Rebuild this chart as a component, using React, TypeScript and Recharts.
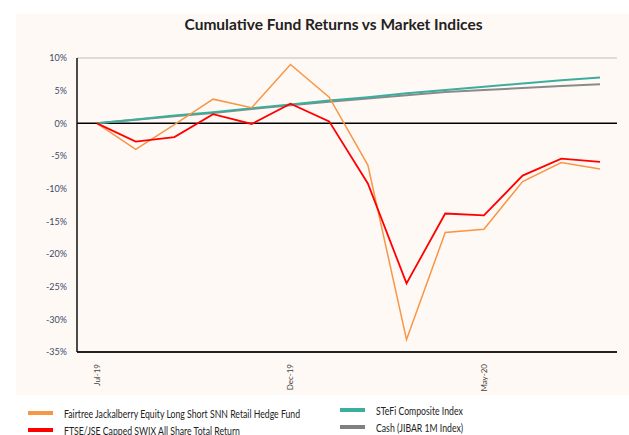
import { LineChart, Line, XAxis, YAxis, CartesianGrid, ReferenceLine } from "recharts";

const months = ["Jul-19", "Aug-19", "Sep-19", "Oct-19", "Nov-19", "Dec-19", "Jan-20", "Feb-20", "Mar-20", "Apr-20", "May-20", "Jun-20", "Jul-20", "Aug-20"];
const fairtree = [0, -4.0, -0.2, 3.7, 2.4, 9.0, 4.0, -6.4, -33.1, -16.7, -16.2, -8.9, -6.0, -7.0];
const swix = [0, -2.8, -2.1, 1.4, -0.1, 3.0, 0.3, -9.2, -24.5, -13.8, -14.1, -8.0, -5.4, -5.9];
const stefi = [0, 0.6, 1.2, 1.7, 2.3, 2.9, 3.5, 4.0, 4.6, 5.1, 5.6, 6.1, 6.6, 7.0];
const cash = [0, 0.55, 1.1, 1.6, 2.2, 2.75, 3.3, 3.8, 4.3, 4.8, 5.1, 5.4, 5.7, 6.0];
const yTicks = [10, 5, 0, -5, -10, -15, -20, -25, -30, -35];

const data = months.map((m, i) => ({ m, fairtree: fairtree[i], swix: swix[i], stefi: stefi[i], cash: cash[i] }));

const FONT = "Lato, 'Open Sans', sans-serif";

const legendItems = [
  { label: "Fairtree Jackalberry Equity Long Short SNN Retail Hedge Fund", color: "#F79646", x: 28, y: 413 },
  { label: "FTSE/JSE Capped SWIX All Share Total Return", color: "#FF0000", x: 28, y: 430 },
  { label: "STeFi Composite Index", color: "#3BAE9E", x: 340, y: 410 },
  { label: "Cash (JIBAR 1M Index)", color: "#808080", x: 340, y: 427 },
];

function MonthTick(props: any) {
  const { x, y, payload } = props;
  return (
    <g transform={`translate(${x},${y})`}>
      <text transform="rotate(-90)" x={-4} dy={3} textAnchor="end" fontSize={8} fill="#444" fontFamily={FONT}>
        {payload.value}
      </text>
    </g>
  );
}

export default function App() {
  return (
    <div style={{ position: "absolute", left: 0, top: 0, width: 629, height: 435, background: "#fff", overflow: "hidden", fontFamily: FONT }}>
      <div style={{ position: "absolute", left: 16, top: 14, width: 613, height: 381, background: "#FFF9F5" }} />
      <div style={{ position: "absolute", left: 0, top: 15, width: 667, textAlign: "center", fontWeight: 700, fontSize: 15.5, color: "#222" }}>
        Cumulative Fund Returns vs Market Indices
      </div>
      <div style={{ position: "absolute", left: 0, top: 0 }}>
        <LineChart width={629} height={400} data={data} margin={{ top: 58, right: 12, left: 17, bottom: 8 }}>
          <CartesianGrid vertical={false} stroke="#BDBDBD" strokeWidth={1} />
          <XAxis
            dataKey="m"
            interval={4}
            height={40}
            tick={<MonthTick />}
            tickLine={false}
            axisLine={{ stroke: "#222", strokeWidth: 2 }}
            padding={{ left: 20, right: 17 }}
          />
          <YAxis
            yAxisId="l"
            domain={[-35, 10]}
            ticks={yTicks}
            width={60}
            tickLine={false}
            axisLine={{ stroke: "#111", strokeWidth: 1.5 }}
            tick={{ fontSize: 9, fill: "#3a4a6a", fontFamily: FONT }}
            tickFormatter={(v) => `${v}%`}
            tickMargin={4}
          />
          <YAxis yAxisId="r" orientation="right" domain={[-35, 10]} width={0} tick={false} tickLine={false} axisLine={{ stroke: "#444", strokeWidth: 1.5 }} />
          <ReferenceLine yAxisId="l" y={0} stroke="#000" strokeWidth={1.5} />
          <Line yAxisId="l" dataKey="cash" stroke="#8A8A8A" strokeWidth={2} dot={false} isAnimationActive={false} />
          <Line yAxisId="l" dataKey="stefi" stroke="#3BAE9E" strokeWidth={2} dot={false} isAnimationActive={false} />
          <Line yAxisId="l" dataKey="fairtree" stroke="#F79646" strokeWidth={1.5} dot={false} isAnimationActive={false} />
          <Line yAxisId="l" dataKey="swix" stroke="#FF0000" strokeWidth={1.8} dot={false} isAnimationActive={false} />
        </LineChart>
      </div>
      {legendItems.map((it) => (
        <div key={it.label} style={{ position: "absolute", left: it.x, top: it.y - 7, height: 14, display: "flex", alignItems: "center", whiteSpace: "nowrap" }}>
          <span style={{ width: 25, height: 4, background: it.color, marginRight: 11 }} />
          <span style={{ fontSize: 11, color: "#222", display: "inline-block", transform: "scaleX(0.79)", transformOrigin: "left center" }}>{it.label}</span>
        </div>
      ))}
    </div>
  );
}
